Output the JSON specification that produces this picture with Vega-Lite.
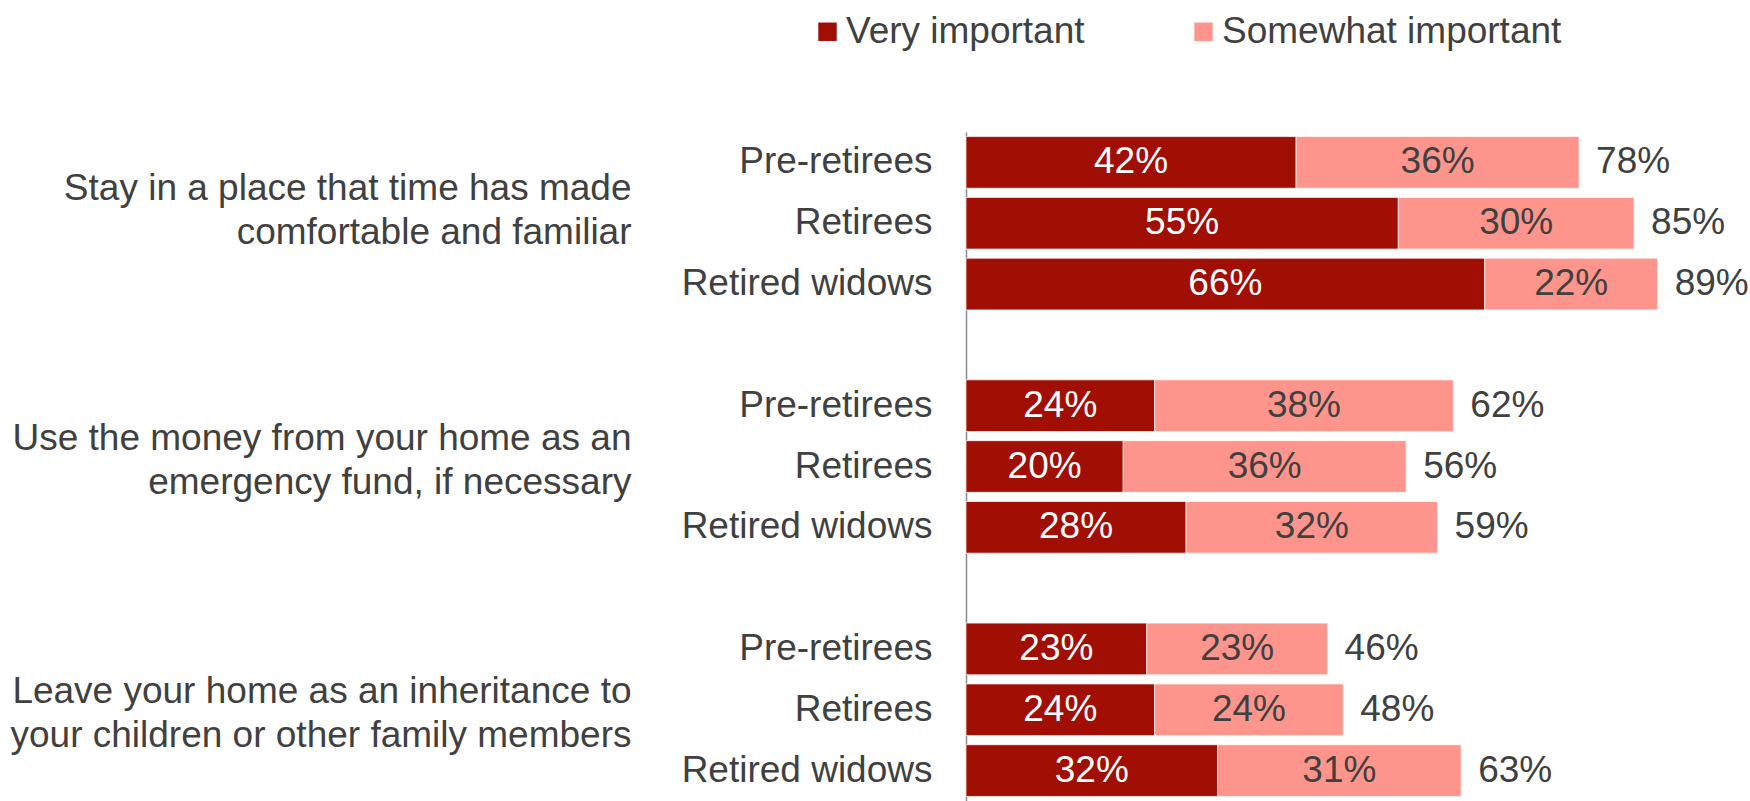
{
  "$schema": "https://vega.github.io/schema/vega-lite/v6.json",
  "width": 786,
  "height": 669,
  "autosize": {"type": "none"},
  "padding": {"left": 966, "top": 132, "right": 0, "bottom": 0},
  "background": "white",
  "config": {
    "view": {"stroke": null},
    "font": "Liberation Sans",
    "text": {"font": "Liberation Sans"}
  },
  "data": {
    "values": [
      {"row": "Stay in a place that time has made;comfortable and familiar|Pre-retirees", "type": "Very important", "value": 0.42, "total": 0.78},
      {"row": "Stay in a place that time has made;comfortable and familiar|Pre-retirees", "type": "Somewhat important", "value": 0.36, "total": 0.78},
      {"row": "Stay in a place that time has made;comfortable and familiar|Retirees", "type": "Very important", "value": 0.55, "total": 0.85},
      {"row": "Stay in a place that time has made;comfortable and familiar|Retirees", "type": "Somewhat important", "value": 0.30, "total": 0.85},
      {"row": "Stay in a place that time has made;comfortable and familiar|Retired widows", "type": "Very important", "value": 0.66, "total": 0.89},
      {"row": "Stay in a place that time has made;comfortable and familiar|Retired widows", "type": "Somewhat important", "value": 0.22, "total": 0.89},
      {"row": "Use the money from your home as an;emergency fund, if necessary|Pre-retirees", "type": "Very important", "value": 0.24, "total": 0.62},
      {"row": "Use the money from your home as an;emergency fund, if necessary|Pre-retirees", "type": "Somewhat important", "value": 0.38, "total": 0.62},
      {"row": "Use the money from your home as an;emergency fund, if necessary|Retirees", "type": "Very important", "value": 0.20, "total": 0.56},
      {"row": "Use the money from your home as an;emergency fund, if necessary|Retirees", "type": "Somewhat important", "value": 0.36, "total": 0.56},
      {"row": "Use the money from your home as an;emergency fund, if necessary|Retired widows", "type": "Very important", "value": 0.28, "total": 0.59},
      {"row": "Use the money from your home as an;emergency fund, if necessary|Retired widows", "type": "Somewhat important", "value": 0.32, "total": 0.59},
      {"row": "Leave your home as an inheritance to;your children or other family members|Pre-retirees", "type": "Very important", "value": 0.23, "total": 0.46},
      {"row": "Leave your home as an inheritance to;your children or other family members|Pre-retirees", "type": "Somewhat important", "value": 0.23, "total": 0.46},
      {"row": "Leave your home as an inheritance to;your children or other family members|Retirees", "type": "Very important", "value": 0.24, "total": 0.48},
      {"row": "Leave your home as an inheritance to;your children or other family members|Retirees", "type": "Somewhat important", "value": 0.24, "total": 0.48},
      {"row": "Leave your home as an inheritance to;your children or other family members|Retired widows", "type": "Very important", "value": 0.32, "total": 0.63},
      {"row": "Leave your home as an inheritance to;your children or other family members|Retired widows", "type": "Somewhat important", "value": 0.31, "total": 0.63}
    ]
  },
  "resolve": {"axis": {"y": "independent"}},
  "layer": [
    {
      "mark": {"type": "bar", "stroke": "white", "strokeWidth": 1, "strokeOpacity": 0.7},
      "encoding": {
        "y": {
          "field": "row", "type": "nominal", "sort": null,
          "scale": {
            "domain": [
              "Stay in a place that time has made;comfortable and familiar|Pre-retirees",
              "Stay in a place that time has made;comfortable and familiar|Retirees",
              "Stay in a place that time has made;comfortable and familiar|Retired widows",
              "gap1",
              "Use the money from your home as an;emergency fund, if necessary|Pre-retirees",
              "Use the money from your home as an;emergency fund, if necessary|Retirees",
              "Use the money from your home as an;emergency fund, if necessary|Retired widows",
              "gap2",
              "Leave your home as an inheritance to;your children or other family members|Pre-retirees",
              "Leave your home as an inheritance to;your children or other family members|Retirees",
              "Leave your home as an inheritance to;your children or other family members|Retired widows"
            ],
            "paddingInner": 0.15, "paddingOuter": 0.075
          },
          "axis": {
            "title": null, "ticks": false, "grid": false,
            "domain": true, "domainColor": "#8c8c8c", "domainWidth": 1.5,
            "labelExpr": "indexof(datum.value, '|') < 0 ? '' : split(datum.value, '|')[1]",
            "labelFont": "Liberation Sans", "labelFontSize": 37, "labelColor": "#404040",
            "labelPadding": 34, "labelLimit": 1000, "labelAlign": "right", "labelBaseline": "middle"
          }
        },
        "x": {"field": "value", "type": "quantitative", "stack": "zero", "scale": {"domain": [0, 1]}, "axis": null},
        "order": {"field": "type", "sort": "descending"},
        "color": {
          "field": "type", "type": "nominal",
          "scale": {"domain": ["Very important", "Somewhat important"], "range": ["#A10E04", "#FE958D"]},
          "legend": {
            "title": null, "orient": "none", "direction": "horizontal",
            "legendX": -157, "legendY": -119,
            "symbolType": "square", "symbolSize": 340, "symbolStrokeWidth": 0,
            "labelFont": "Liberation Sans", "labelFontSize": 37, "labelColor": "#404040",
            "labelOffset": 0, "columnPadding": 100, "labelLimit": 1000
          }
        }
      }
    },
    {
      "mark": {
        "type": "text", "fontSize": 37, "align": "center", "baseline": "middle", "font": "Liberation Sans",
        "dx": {"expr": "(scale('x', 0) - scale('x', datum.value)) / 2"}
      },
      "encoding": {
        "y": {"field": "row", "type": "nominal", "sort": null, "axis": null},
        "x": {"field": "value", "type": "quantitative", "stack": "zero"},
        "order": {"field": "type", "sort": "descending"},
        "text": {"field": "value", "type": "quantitative", "format": ".0%"},
        "color": {"condition": {"test": "datum.type == 'Very important'", "value": "white"}, "value": "#404040"}
      }
    },
    {
      "mark": {"type": "text", "fontSize": 37, "align": "left", "baseline": "middle", "dx": 17, "color": "#404040", "font": "Liberation Sans"},
      "encoding": {
        "y": {
          "field": "row", "type": "nominal", "sort": null,
          "axis": {
            "title": null, "ticks": false, "grid": false, "domain": false,
            "orient": "left", "offset": 335,
            "labelExpr": "indexof(datum.value, '|Retirees') < 0 ? '' : split(split(datum.value, '|')[0], ';')",
            "labelFont": "Liberation Sans", "labelFontSize": 37, "labelColor": "#404040",
            "labelPadding": 0, "labelLimit": 1000, "labelAlign": "right", "labelBaseline": "middle",
            "labelLineHeight": 44,
            "labelOffset": {
              "condition": [
                {"test": "indexof(datum.value, 'Leave') == 0", "value": -18},
                {"test": "indexof(datum.value, 'Use') == 0", "value": -28}
              ],
              "value": -34
            }
          }
        },
        "x": {"aggregate": "sum", "field": "value", "type": "quantitative"},
        "text": {"aggregate": "max", "field": "total", "type": "quantitative", "format": ".0%"}
      }
    }
  ]
}
